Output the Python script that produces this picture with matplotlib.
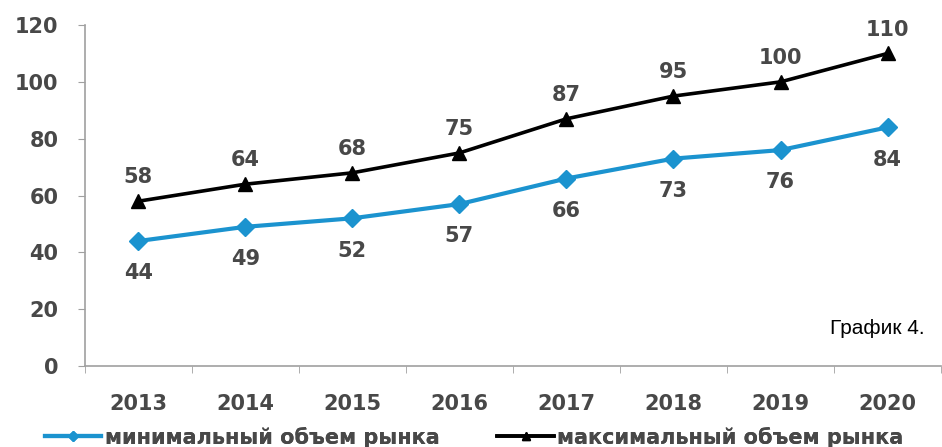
import matplotlib

matplotlib.use("Agg")

import matplotlib.pyplot as plt
import numpy as np

years = ["2013", "2014", "2015", "2016", "2017", "2018", "2019", "2020"]
min_volume = [44, 49, 52, 57, 66, 73, 76, 84]
max_volume = [58, 64, 68, 75, 87, 95, 100, 110]
y_ticks = [0, 20, 40, 60, 80, 100, 120]

blue = "#1b93cf"
axis_grey = "#a0a0a0"
text_color = "#484848"

plt.rcParams["font.family"] = ["DejaVu Sans"]

fig = plt.figure(figsize=(9.42, 4.47), dpi=100)
ax = fig.add_axes([0.090, 0.181, 0.909, 0.763])

x = np.arange(len(years))
line_min, = ax.plot(x, min_volume, color=blue, lw=3, marker="D", ms=9, mec=blue,
                    label="минимальный объем рынка")
line_max, = ax.plot(x, max_volume, color="black", lw=2.6, marker="^", ms=10,
                    label="максимальный объем рынка")

for xi, v in zip(x, min_volume):
    ax.annotate(str(v), (xi, v), xytext=(0, -16), textcoords="offset points",
                ha="center", va="top", fontsize=15, fontweight="bold", color=text_color)
for xi, v in zip(x, max_volume):
    ax.annotate(str(v), (xi, v), xytext=(0, 10), textcoords="offset points",
                ha="center", va="bottom", fontsize=15, fontweight="bold", color=text_color)

ax.set_xlim(-0.5, len(years) - 0.5)
ax.set_ylim(0, 120)
ax.set_yticks(y_ticks)
ax.set_yticklabels([str(t) for t in y_ticks], fontsize=15, fontweight="bold",
                   color=text_color)

# category labels centred, tick marks between categories
ax.set_xticks(x)
ax.set_xticklabels(years, fontsize=15, fontweight="bold", color=text_color)
ax.set_xticks(np.arange(len(years) + 1) - 0.5, minor=True)
ax.tick_params(axis="x", which="major", length=0, pad=20)
ax.tick_params(axis="x", which="minor", length=5, color=axis_grey, direction="out")
ax.tick_params(axis="y", length=5, color=axis_grey, pad=14)

for side in ("top", "right"):
    ax.spines[side].set_visible(False)
for side in ("left", "bottom"):
    ax.spines[side].set_color(axis_grey)
    ax.spines[side].set_linewidth(1.2)

fig.text(0.982, 0.265, "График 4.", ha="right", va="center", fontsize=15,
         family="Liberation Sans", color="black")

# two legend entries placed separately along the bottom edge
for handle, x0 in ((line_min, 0.048), (line_max, 0.528)):
    leg = fig.legend([handle], [handle.get_label()], loc="center left",
                     bbox_to_anchor=(x0, 0.022), frameon=False, borderpad=0,
                     borderaxespad=0, handlelength=2.7, handletextpad=0.15,
                     markerscale=0.6, prop={"size": 15, "weight": "bold"},
                     labelcolor=text_color)
    fig.add_artist(leg)

fig.savefig("out.png", dpi=100)
plt.close(fig)
